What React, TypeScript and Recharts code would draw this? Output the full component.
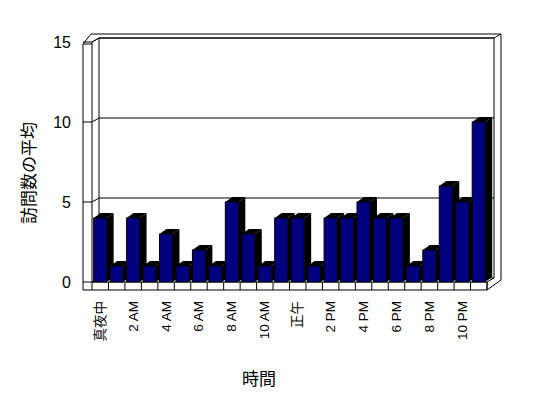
import { BarChart, Bar, XAxis, YAxis, CartesianGrid, Label } from 'recharts'

const hours = [
  '真夜中', '1 AM', '2 AM', '3 AM', '4 AM', '5 AM', '6 AM', '7 AM', '8 AM', '9 AM', '10 AM', '11 AM',
  '正午', '1 PM', '2 PM', '3 PM', '4 PM', '5 PM', '6 PM', '7 PM', '8 PM', '9 PM', '10 PM', '11 PM',
]
const visits = [4, 1, 4, 1, 3, 1, 2, 1, 5, 3, 1, 4, 4, 1, 4, 4, 5, 4, 4, 1, 2, 6, 5, 10]
const yTicks = [0, 5, 10, 15]

const data = hours.map((hour, i) => ({ hour, visits: visits[i] }))

// layout of the plot box (front face), page coordinates
const W = 548
const H = 398
const L = 92
const T = 42
const R = 487
const B = 282
const DX = 7 // wall depth
const DY = 4
const FONT = "'Liberation Sans', Arial, 'Noto Sans CJK JP', sans-serif"
const JP = "'Noto Sans CJK JP', sans-serif"

function Bar3D(props: any) {
  const { x, y, width, height } = props
  if (!height) return null
  const d = 7, e = 5
  const xr = x + width
  return (
    <g>
      <polygon points={`${xr},${y} ${xr + d},${y - e} ${xr + d},${y + height - e} ${xr},${y + height}`} fill="#000" />
      <polygon points={`${x},${y} ${x + d},${y - e} ${xr + d},${y - e} ${xr},${y}`} fill="#000" />
      <rect x={x} y={y} width={width} height={height} fill="#000080" stroke="#000" strokeWidth={1} />
    </g>
  )
}

// grid line runs across the left wall, then along the back wall
const gridLine = (p: any) => {
  const y = p.y1
  return (
    <polyline
      key={p.key}
      points={`${L - 9},${y} ${L},${y} ${L + DX},${y - DY} ${R + DX},${y - DY}`}
      fill="none"
      stroke="#000"
      strokeWidth={1}
    />
  )
}

function HourTick({ x, payload, index }: any) {
  const half = (R - L) / hours.length / 2
  const ty = B + 19
  return (
    <g>
      <line x1={x + half} y1={B} x2={x + half} y2={B + 8} stroke="#000" />
      {index % 2 === 0 && (
        <text
          x={x}
          y={ty}
          transform={`rotate(-90, ${x}, ${ty})`}
          textAnchor="end"
          dominantBaseline="central"
          fontSize={13.5}
          fontFamily={FONT}
          fill="#000"
        >
          {payload.value}
        </text>
      )}
    </g>
  )
}

function Frame() {
  return (
    <svg width={W} height={H} style={{ position: 'absolute', left: 0, top: 0 }}>
      <g fill="none" stroke="#000" strokeWidth={1}>
        <path d={`M${L - 9},${T + 2} L${L - 9},${B + 8} L${R},${B + 8} L${R},${B}`} />
        <path d={`M${L},${T} L${L},${B + 8}`} />
        <path d={`M${L},${B} L${R},${B}`} />
        <path d={`M${L - 9},${T + 2} L${L},${T + 2}`} />
        <path d={`M${L - 9},${T + 2} L${L - 1},${T - 8} L${R + 2 * DX},${T - 8} L${R + 2 * DX},${B - 2} L${R},${B + 8}`} />
        <path d={`M${L},${T} L${L + DX},${T - DY} L${R + DX},${T - DY} L${R + DX},${B - DY}`} />
        <path d={`M${L + DX},${T - DY} L${L + DX},${B - DY}`} />
        <path d={`M${R},${B} L${R + DX},${B - DY}`} />
        <path d={`M${R + DX},${T - DY} L${R + 2 * DX},${T - 8}`} />
      </g>
    </svg>
  )
}

export default function App() {
  return (
    <div style={{ position: 'absolute', left: 0, top: 0, width: W, height: H, background: '#fff' }}>
      <Frame />
      <div style={{ position: 'absolute', left: 0, top: 0 }}>
        <BarChart
          width={W}
          height={H}
          data={data}
          margin={{ top: T, right: W - R, left: 52, bottom: 26 }}
          barCategoryGap="10%"
        >
          <CartesianGrid horizontal={gridLine} vertical={false} />
          <XAxis
            dataKey="hour"
            interval={0}
            height={90}
            axisLine={false}
            tickLine={false}
            tickSize={0}
            tick={<HourTick />}
          >
            <Label
              content={() => (
                <text x={259} y={377} textAnchor="middle" dominantBaseline="central" fontSize={17} fontFamily={JP} fill="#000">
                  時間
                </text>
              )}
            />
          </XAxis>
          <YAxis
            width={40}
            domain={[0, 15]}
            ticks={yTicks}
            axisLine={false}
            tickLine={false}
            tickSize={0}
            tickMargin={21}
            tick={{ fontSize: 16, fontFamily: FONT, fill: '#000' }}
          >
            <Label
              content={() => (
                <text
                  x={27}
                  y={173}
                  transform="rotate(-90, 27, 173)"
                  textAnchor="middle"
                  dominantBaseline="central"
                  fontSize={17}
                  fontFamily={JP}
                  fill="#000"
                >
                  訪問数の平均
                </text>
              )}
            />
          </YAxis>
          <Bar dataKey="visits" shape={<Bar3D />} isAnimationActive={false} />
        </BarChart>
      </div>
    </div>
  )
}
